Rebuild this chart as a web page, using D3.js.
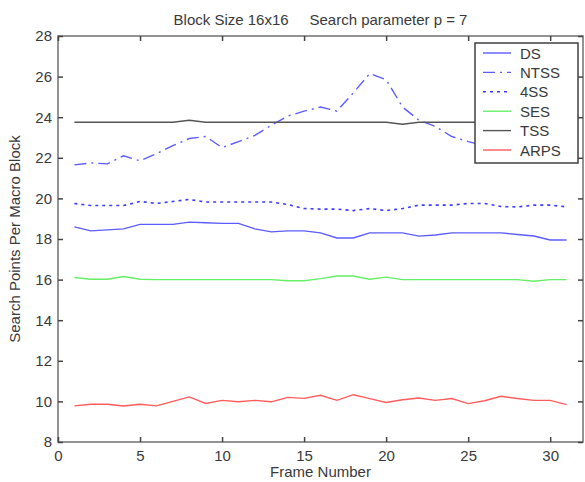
<!DOCTYPE html>
<html>
<head>
<meta charset="utf-8">
<script src="https://cdn.jsdelivr.net/npm/d3@7"></script>
<style>
html,body{margin:0;padding:0;background:#fff;}
svg text{font-family:"Liberation Sans",Arial,sans-serif;fill:#3a3a3a;}
</style>
</head>
<body>
<svg id="chart" width="585" height="482"></svg>
<script>
const frames = d3.range(1, 32);
const dsValues   = [18.6,18.4,18.45,18.5,18.72,18.72,18.72,18.83,18.8,18.77,18.77,18.5,18.35,18.4,18.4,18.3,18.05,18.05,18.3,18.3,18.3,18.14,18.2,18.3,18.3,18.3,18.3,18.22,18.15,17.95,17.95];
const ntssValues = [21.65,21.75,21.7,22.1,21.85,22.2,22.6,22.95,23.05,22.5,22.8,23.1,23.6,24.05,24.3,24.5,24.3,25.2,26.15,25.85,24.5,23.85,23.55,23.05,22.8,22.6,22.6,22.65,22.6,22.6,22.6];
const fssValues  = [19.75,19.65,19.65,19.65,19.85,19.75,19.85,19.95,19.82,19.82,19.82,19.82,19.82,19.7,19.5,19.47,19.47,19.4,19.5,19.4,19.5,19.67,19.67,19.67,19.75,19.75,19.6,19.58,19.67,19.67,19.58];
const sesValues  = [16.1,16.02,16.02,16.15,16.02,16.0,16.0,16.0,16.0,16.0,16.0,16.0,16.0,15.94,15.94,16.05,16.18,16.18,16.02,16.12,16.0,16.0,16.0,16.0,16.0,16.0,16.0,16.0,15.92,16.0,16.0];
const tssValues  = [23.75,23.75,23.75,23.75,23.75,23.75,23.75,23.85,23.75,23.75,23.75,23.75,23.75,23.75,23.75,23.75,23.75,23.75,23.75,23.75,23.65,23.75,23.75,23.75,23.75,23.75,23.75,23.75,23.75,23.75,23.75];
const arpsValues = [9.78,9.86,9.86,9.77,9.86,9.78,10.0,10.22,9.9,10.05,9.98,10.05,9.98,10.2,10.15,10.3,10.05,10.33,10.14,9.95,10.08,10.17,10.05,10.14,9.89,10.03,10.25,10.14,10.05,10.05,9.84];
const seriesNames = ["DS","NTSS","4SS","SES","TSS","ARPS"];
const xTicks = [0,5,10,15,20,25,30];
const yTicks = [8,10,12,14,16,18,20,22,24,26,28];
const titleText = "Block Size 16x16     Search parameter p = 7";
const xLabel = "Frame Number";
const yLabel = "Search Points Per Macro Block";

const styles = {
  "DS":   {color:"#5c5cff", dash:null, w:1.4},
  "NTSS": {color:"#5c5cff", dash:"12,5,2,5", w:1.4},
  "4SS":  {color:"#3c3cff", dash:"3,4", w:1.6},
  "SES":  {color:"#66ee66", dash:null, w:1.4},
  "TSS":  {color:"#555555", dash:null, w:1.4},
  "ARPS": {color:"#ff5c5c", dash:null, w:1.4}
};
const allValues = [dsValues, ntssValues, fssValues, sesValues, tssValues, arpsValues];

const svg = d3.select("#chart");
const L = 58, R = 583, T = 36, B = 442;
const x = d3.scaleLinear().domain([0,32]).range([L,R]);
const y = d3.scaleLinear().domain([8,28]).range([B,T]);

// series
const line = d3.line().x((d,i)=>x(frames[i])).y(d=>y(d));
seriesNames.forEach((name,k)=>{
  const s = styles[name];
  svg.append("path").datum(allValues[k])
    .attr("d", line).attr("fill","none")
    .attr("stroke", s.color).attr("stroke-width", s.w)
    .attr("stroke-dasharray", s.dash);
});

// axes box
const axisColor = "#707070";
svg.append("rect").attr("x",L).attr("y",T).attr("width",R-L).attr("height",B-T)
  .attr("fill","none").attr("stroke",axisColor).attr("stroke-width",1.5);

const tl = 5;
const gx = svg.append("g").attr("transform",`translate(0,${B})`)
  .call(d3.axisBottom(x).tickValues(xTicks).tickSize(-tl).tickPadding(8).tickFormat(d3.format("d")));
const gxt = svg.append("g").attr("transform",`translate(0,${T})`)
  .call(d3.axisTop(x).tickValues(xTicks).tickSize(-tl).tickFormat(""));
const gy = svg.append("g").attr("transform",`translate(${L},0)`)
  .call(d3.axisLeft(y).tickValues(yTicks).tickSize(-tl).tickPadding(6).tickFormat(d3.format("d")));
const gyr = svg.append("g").attr("transform",`translate(${R},0)`)
  .call(d3.axisRight(y).tickValues(yTicks).tickSize(-tl).tickFormat(""));
[gx,gxt,gy,gyr].forEach(g=>{
  g.select(".domain").remove();
  g.selectAll(".tick line").attr("stroke","#444").attr("stroke-width",1.5);
  g.selectAll(".tick text").attr("font-size",15).attr("fill","#3a3a3a")
    .attr("font-family","'Liberation Sans',Arial,sans-serif");
});

// titles
svg.append("text").attr("x",(L+R)/2).attr("y",25).attr("text-anchor","middle")
  .attr("font-size",15).style("white-space","pre").attr("xml:space","preserve").text(titleText);
svg.append("text").attr("x",(L+R)/2).attr("y",477).attr("text-anchor","middle")
  .attr("font-size",15).text(xLabel);
svg.append("text").attr("transform",`translate(20,${(T+B)/2}) rotate(-90)`)
  .attr("text-anchor","middle").attr("font-size",15).text(yLabel);

// legend
const lg = svg.append("g");
lg.append("rect").attr("x",475).attr("y",43).attr("width",103).attr("height",120)
  .attr("fill","#fff").attr("stroke","#404040").attr("stroke-width",1.5);
const ly = d3.scalePoint().domain(seriesNames).range([53,150]);
seriesNames.forEach(name=>{
  const s = styles[name];
  lg.append("line").attr("x1",483).attr("x2",511).attr("y1",ly(name)).attr("y2",ly(name))
    .attr("stroke",s.color).attr("stroke-width",s.w).attr("stroke-dasharray",s.dash);
  lg.append("text").attr("x",520).attr("y",ly(name)+5.5).attr("font-size",15).text(name);
});
</script>
</body>
</html>
